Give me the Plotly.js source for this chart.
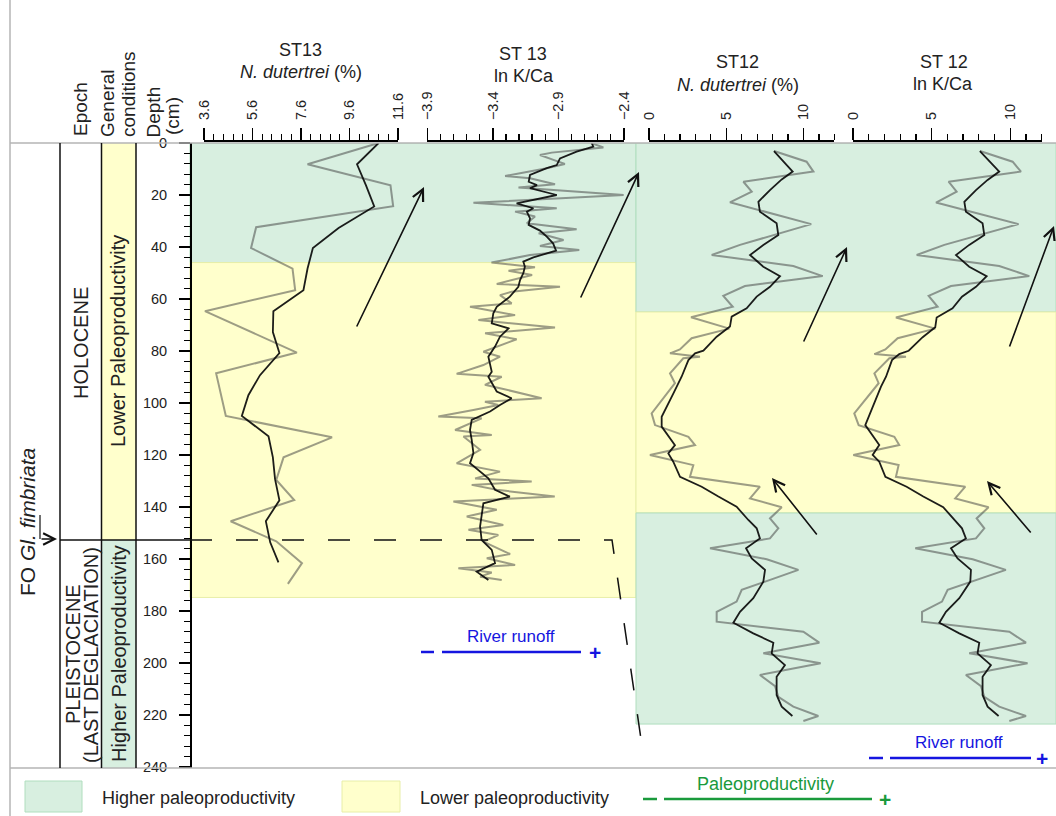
<!DOCTYPE html>
<html><head><meta charset="utf-8">
<script src="https://cdn.plot.ly/plotly-3.0.1.min.js"></script>
<style>html,body{margin:0;padding:0;background:#fff}#chart{width:1056px;height:816px}</style>
</head><body><div id="chart"></div>
<script>
// ---------------- DATA ----------------
// ST13 N. dutertrei (%)
const st13DutRawDepth = [0,8.2,16.3,24.3,32.4,40.4,48.3,56.6,64.7,80.6,88.6,105,113.2,120.9,129.6,137.3,145.5,153.2,161.6,169.6];
const st13DutRaw      = [10.8,7.87,11.29,11.4,5.75,5.54,7.25,7.36,3.64,7.43,4.10,4.50,8.88,6.88,6.58,7.32,4.70,6.58,7.64,7.06];
const st13DutSmDepth  = [0,8.2,16.3,24.4,32.7,40.4,48.3,56.6,64.7,72.7,80.8,89.3,97,105,112.8,120.9,129.3,137.4,145.5,153.6,161.3];
const st13DutSm       = [10.8,9.91,10.28,10.62,9.15,8.09,7.87,7.70,6.46,6.44,6.71,5.91,5.43,5.16,6.26,6.44,6.53,6.71,6.15,6.33,6.67];

// ST13 ln K/Ca
const st13KRawDepth = [0.1,1.7,3.7,4.6,6.5,8.1,9.7,12.7,13.6,15.9,17.1,20.0,23.0,25.1,26.4,28.3,30.9,33.2,34.7,37.3,39.6,41.2,43.1,46.0,47.8,49.1,50.8,54.2,55.3,57.2,58.5,61.7,63.0,66.2,68.1,71.0,73.2,75.5,80.3,82.2,85.4,88.8,89.9,93.0,94.3,98.2,99.5,100.8,102.7,105.2,105.9,110.4,112.3,112.9,118.0,123.2,126.4,129.0,130.2,131.5,133.4,136.0,137.9,141.1,143.7,146.9,148.8,150.8,153.3,158.1,159.7,162.3,163.6,165.2,166.8,168.1];
const st13KRaw      = [-2.645,-2.556,-2.95,-3.04,-2.937,-2.85,-2.988,-3.306,-3.116,-2.925,-3.204,-2.40,-3.548,-2.912,-3.23,-3.078,-3.14,-2.76,-3.05,-2.86,-3.04,-2.74,-3.116,-3.41,-3.078,-3.28,-3.10,-3.37,-2.887,-3.256,-3.345,-3.256,-3.574,-3.23,-3.51,-2.925,-3.459,-3.218,-3.472,-3.345,-3.472,-3.676,-3.332,-3.46,-3.345,-3.027,-3.46,-3.358,-3.548,-3.816,-3.485,-3.688,-3.408,-3.624,-3.497,-3.676,-3.345,-3.535,-3.103,-3.561,-3.37,-2.927,-3.701,-3.37,-3.599,-3.32,-3.586,-3.358,-3.472,-3.268,-3.446,-3.23,-3.663,-3.408,-3.497,-3.332];
const st13KSmDepth = [0,1.4,3.3,5.9,8.5,9.7,12.3,14.9,16.2,17.4,20.0,21.7,23.2,25.1,26.4,29.0,31.5,33.7,36.0,38.6,41.4,44.0,45.6,47.6,50.1,52.7,55.3,59.1,63.0,65.5,69.4,71.3,74.5,78.3,82.2,88.0,89.9,95.6,98.2,100.8,103.3,106.5,110.4,114.2,119.3,123.2,125.8,129.0,133.4,136.0,138.6,142.4,147.5,152.7,156.5,161.6,164.9,168.1];
const st13KSm      = [-2.645,-2.633,-2.76,-2.887,-2.912,-2.988,-3.116,-3.126,-3.063,-3.116,-2.912,-3.09,-3.218,-3.09,-3.14,-3.116,-3.126,-3.04,-2.988,-2.94,-2.917,-3.09,-3.167,-3.155,-3.167,-3.192,-3.205,-3.27,-3.37,-3.396,-3.408,-3.28,-3.345,-3.383,-3.434,-3.408,-3.434,-3.37,-3.256,-3.345,-3.421,-3.561,-3.574,-3.561,-3.548,-3.574,-3.51,-3.434,-3.383,-3.27,-3.472,-3.485,-3.497,-3.485,-3.408,-3.383,-3.523,-3.434];

// ST12 N. dutertrei (%)
const st12DutRawDepth = [3.1,7.2,11.0,14.9,18.7,22.8,31.2,39.2,43.1,47.3,51.2,55.0,58.8,63.0,67.0,71.4,75.1,79.4,80.9,82.2,82.8,88.6,92.4,104.0,108.5,113.0,116.2,120.0,123.9,128.4,132.2,136.7,140.1,144.4,148.2,152.1,155.9,160.1,164.2,171.9,176.4,180.3,184.1,188.0,192.2,196.3,200.1,204.6,208.9,213.0,216.8,220.4,222.3];
const st12DutRaw      = [8.09,10.2,10.64,6.11,6.65,5.24,10.5,5.89,4.06,9.34,11.24,6.21,4.81,5.42,2.72,5.20,2.76,2.00,1.36,3.30,2.22,1.36,1.68,0.17,0.39,2.55,2.98,0.06,2.87,2.65,7.18,6.54,8.59,7.83,8.37,7.83,3.95,7.62,9.67,6.00,5.67,4.38,4.38,9.99,11.02,7.40,11.11,7.18,8.16,8.37,9.34,10.96,9.99];
const st12DutSmDepth  = [3.1,11.0,14.0,18.1,22.6,26.4,30.9,35.4,39.2,43.1,47.6,51.2,55.3,59.1,63.6,66.8,70.6,74.5,79.9,80.9,83.5,89.9,96.3,105.3,109.1,116.2,119.4,122.6,128.4,132.2,136.0,139.9,145.0,148.2,152.1,155.9,159.8,164.2,168.7,175.1,180.3,184.5,188.6,192.2,196.3,200.8,205.3,212.3,216.8,220.4];
const st12DutSm       = [8.09,9.30,8.59,7.83,7.08,7.18,8.26,8.37,7.40,6.54,7.40,8.48,7.83,6.97,6.32,5.35,5.24,4.38,3.52,2.98,2.55,2.11,1.58,0.82,0.82,1.68,1.25,1.57,2.01,3.41,4.49,5.67,6.43,6.97,7.18,6.28,6.65,7.51,7.40,6.75,5.89,5.46,6.75,8.05,7.94,8.80,8.26,8.26,8.59,9.28];

// ST12 ln K/Ca
const st12KRawDepth = [3.1,7.2,11.0,14.9,18.7,22.9,31.2,39.2,43.1,47.3,51.2,55.0,58.8,63.0,67.1,71.4,75.1,79.4,81.2,82.2,82.8,88.6,92.4,104.0,108.5,113.0,116.2,120.0,123.9,128.4,132.2,136.7,140.1,144.4,148.2,152.1,155.9,160.1,164.2,171.9,176.4,180.3,184.1,188.0,192.2,196.3,200.1,204.6,208.9,213.0,216.8,220.4,222.3];
const st12KRaw      = [8.07,10.15,10.68,6.08,6.59,5.28,10.53,5.81,4.05,9.30,11.21,6.23,4.81,5.38,2.73,5.23,2.84,2.06,1.36,3.37,2.31,1.36,1.63,0.08,0.36,2.63,2.94,0.02,2.90,2.73,7.14,6.50,8.62,7.86,8.35,7.82,3.96,7.61,9.72,6.02,5.66,4.39,4.39,9.94,11.0,7.39,11.1,7.18,8.14,8.35,9.30,11.0,9.94];
const st12KSmDepth = [3.1,11.0,14.2,18.1,22.6,26.4,30.9,35.4,39.2,43.1,47.6,51.2,55.3,59.1,63.6,67.1,70.9,74.7,79.9,81.2,83.5,89.9,93.7,108.5,116.2,120.0,122.6,128.4,132.2,136.0,140.1,144.8,148.2,152.1,155.9,159.8,164.2,168.7,175.1,180.3,184.5,188.6,192.2,196.3,200.8,205.3,212.3,216.8,220.4];
const st12KSm      = [8.07,9.30,8.56,7.82,7.08,7.18,8.24,8.35,7.39,6.55,7.39,8.50,7.82,6.93,6.33,5.32,5.23,4.43,3.54,2.94,2.48,2.10,1.78,0.78,1.67,1.25,1.67,2.06,3.41,4.47,5.74,6.44,6.93,7.18,6.23,6.65,7.50,7.46,6.76,5.91,5.49,6.76,8.03,7.92,8.77,8.24,8.24,8.56,9.26];

// Paleoproductivity intervals (depth, cm)
const st13BandTop    = [0, 46];
const st13BandBottom = [46, 174.8];
const st13BandKind   = ['higher', 'lower'];
const st12BandTop    = [0, 65, 142.3];
const st12BandBottom = [65, 142.3, 223.5];
const st12BandKind   = ['higher', 'lower', 'higher'];
const epochBoundaryDepth = 152.7;   // FO Gl. fimbriata in ST13
const st12CorrelationDepth = 234.6; // correlated level in ST12

// ---------------- STYLE / LAYOUT ----------------
const W = 1056, H = 816;
const px = x => x / W, py = y => 1 - y / H;
const FONT = 'Liberation Sans, Arial, Helvetica, sans-serif';
const GREEN_FILL = 'rgb(216,239,224)', GREEN_EDGE = 'rgb(176,222,190)';
const YEL_FILL = 'rgb(255,255,204)', YEL_EDGE = 'rgb(232,238,168)';
const RAW_LINE = {color: 'rgba(60,60,60,0.5)', width: 2};
const SM_LINE = {color: 'rgba(10,10,10,0.92)', width: 1.8};
const BLUE = '#1515e0', GREEN = '#1a9a3c';

function tr(x, y, xa, line) {
  return {x: x, y: y, xaxis: xa, yaxis: 'y', type: 'scatter', mode: 'lines', line: line, hoverinfo: 'skip', showlegend: false};
}
const data = [
  tr(st13DutRaw, st13DutRawDepth, 'x', RAW_LINE),
  tr(st13DutSm, st13DutSmDepth, 'x', SM_LINE),
  tr(st13KRaw, st13KRawDepth, 'x2', RAW_LINE),
  tr(st13KSm, st13KSmDepth, 'x2', SM_LINE),
  tr(st12DutRaw, st12DutRawDepth, 'x3', RAW_LINE),
  tr(st12DutSm, st12DutSmDepth, 'x3', SM_LINE),
  tr(st12KRaw, st12KRawDepth, 'x4', RAW_LINE),
  tr(st12KSm, st12KSmDepth, 'x4', SM_LINE)
];

function xAxis(l, r, range, tick0, dtick, mdtick, fmt) {
  return {
    domain: [px(l), px(r)], range: range, side: 'top', anchor: 'free', position: py(140),
    showgrid: false, zeroline: false, showline: true, linecolor: '#000', linewidth: 1.5,
    ticks: 'outside', ticklen: 12, tickwidth: 1.5, tickcolor: '#000', tickangle: -90,
    ticklabelstandoff: 5,
    tick0: tick0, dtick: dtick, tickformat: fmt,
    minor: {ticks: 'outside', ticklen: 6, tickwidth: 1.2, tickcolor: '#000', tick0: tick0, dtick: mdtick, showgrid: false},
    tickfont: {family: FONT, size: 14.5, color: '#222'}, automargin: false, fixedrange: true
  };
}

const shapes = [];
function rectP(x0, y0, x1, y1, fill, edge) {
  shapes.push({type: 'rect', xref: 'paper', yref: 'paper', x0: px(x0), x1: px(x1), y0: py(y0), y1: py(y1),
    fillcolor: fill, line: {color: edge, width: 1}, layer: 'below'});
}
function lineP(x0, y0, x1, y1, color, width, dash) {
  shapes.push({type: 'line', xref: 'paper', yref: 'paper', x0: px(x0), x1: px(x1), y0: py(y0), y1: py(y1),
    line: {color: color, width: width, dash: dash || 'solid'}, layer: 'above'});
}
function band(xl, xr, top, bottom, kind) {
  shapes.push({type: 'rect', xref: 'paper', yref: 'y', x0: px(xl), x1: px(xr), y0: top, y1: bottom,
    fillcolor: kind === 'higher' ? GREEN_FILL : YEL_FILL,
    line: {color: kind === 'higher' ? GREEN_EDGE : YEL_EDGE, width: 1}, layer: 'below'});
}
st13BandTop.forEach((t, i) => band(190, 636, t, st13BandBottom[i], st13BandKind[i]));
st12BandTop.forEach((t, i) => band(636, 1056, t, st12BandBottom[i], st12BandKind[i]));

// general conditions column
shapes.push({type: 'rect', xref: 'paper', yref: 'y', x0: px(101.5), x1: px(136), y0: 0, y1: epochBoundaryDepth, fillcolor: YEL_FILL, line: {width: 0}, layer: 'below'});
shapes.push({type: 'rect', xref: 'paper', yref: 'y', x0: px(101.5), x1: px(136), y0: epochBoundaryDepth, y1: 240.4, fillcolor: GREEN_FILL, line: {width: 0}, layer: 'below'});

// frame lines
lineP(10, 0, 10, 816, '#b4b4b4', 1.5);
lineP(10, 143, 1056, 143, '#b4b4b4', 1.5);
lineP(10, 768, 1056, 768, '#b4b4b4', 1.5);
[60, 101.5, 136].forEach(x => lineP(x, 143, x, 768, '#111', 1.5));
shapes.push({type: 'line', xref: 'paper', yref: 'y', x0: px(60), x1: px(190), y0: epochBoundaryDepth, y1: epochBoundaryDepth, line: {color: '#111', width: 1.5}});
// dashed correlation line
shapes.push({type: 'path', xref: 'paper', yref: 'y',
  path: 'M ' + px(190) + ',' + epochBoundaryDepth + ' L ' + px(612) + ',' + epochBoundaryDepth + ' L ' + px(643) + ',' + st12CorrelationDepth,
  line: {color: '#111', width: 1.5, dash: '22px,24px'}});
// FO marker
lineP(40, 515, 40, 539, '#222', 1.3);

// river runoff / paleoproductivity scales
lineP(421, 652, 434, 652, BLUE, 2.5); lineP(442, 652, 581, 652, BLUE, 2.5);
lineP(869, 758, 883, 758, BLUE, 2.5); lineP(890, 758, 1031, 758, BLUE, 2.5);
lineP(643, 799, 657, 799, GREEN, 2.5); lineP(664, 799, 872, 799, GREEN, 2.5);

// legend swatches
rectP(25, 781, 82, 812, GREEN_FILL, GREEN_EDGE);
rectP(342, 781, 400, 812, YEL_FILL, YEL_EDGE);

const ann = [];
function txt(text, x, y, size, opts) {
  const o = Object.assign({text: text, x: px(x), y: py(y), xref: 'paper', yref: 'paper', showarrow: false,
    xanchor: 'center', yanchor: 'middle', font: {family: FONT, size: size, color: (opts && opts.color) || '#222'}}, opts || {});
  if (opts && opts.color) delete o.color;
  ann.push(o);
}
// panel titles
txt('ST13', 300, 50, 18);
txt('<i>N. dutertrei</i> (%)', 301, 72, 18);
txt('ST 13', 523, 54, 18);
txt('ln K/Ca', 524, 76, 18);
txt('ST12', 737, 62, 18);
txt('<i>N. dutertrei</i> (%)', 738, 85, 18);
txt('ST 12', 944, 62, 18);
txt('ln K/Ca', 943, 84, 18);
// column headers (rotated)
txt('Epoch', 80, 138, 19, {textangle: -90, yanchor: 'bottom'});
txt('General', 107, 139, 19, {textangle: -90, yanchor: 'bottom'});
txt('conditions', 128, 139, 19, {textangle: -90, yanchor: 'bottom'});
txt('Depth', 153, 140, 19, {textangle: -90, yanchor: 'bottom'});
txt('(cm)', 173, 137, 19, {textangle: -90, yanchor: 'bottom'});
// column contents
txt('HOLOCENE', 81, 343, 20, {textangle: -90});
txt('PLEISTOCENE', 73, 654, 20, {textangle: -90});
txt('(LAST DEGLACIATION)', 91, 655, 20, {textangle: -90});
txt('Lower Paleoproductivity', 118, 341, 20, {textangle: -90});
txt('Higher Paleoproductivity', 119, 654, 20, {textangle: -90});
txt('FO <i>Gl. fimbriata</i>', 27, 522, 21, {textangle: -90});
// scale labels
txt('River runoff', 511, 636, 17, {color: BLUE});
txt('<b>+</b>', 595, 652, 21, {color: BLUE});
txt('River runoff', 959, 742, 17, {color: BLUE});
txt('<b>+</b>', 1042, 758, 21, {color: BLUE});
txt('Paleoproductivity', 765, 784, 18, {color: GREEN});
txt('<b>+</b>', 885, 799, 21, {color: GREEN});
// legend
txt('Higher paleoproductivity', 100, 798, 18, {xanchor: 'left'});
txt('Lower paleoproductivity', 418, 798, 18, {xanchor: 'left'});

// arrows (head x,y ; tail x,y in page pixels)
const arrows = [[424,187,356,328],[639,172,580,299],[847,247,803,343],[1054,226,1009,348],[772,478,818,536],[987,481,1032,534],[57,539,40,539]];
arrows.forEach(a => ann.push({x: px(a[0]), y: py(a[1]), xref: 'paper', yref: 'paper', text: '', showarrow: true,
  ax: a[2] - a[0], ay: a[3] - a[1], arrowhead: 5, arrowsize: 1.4, arrowwidth: 1.6, arrowcolor: '#111', standoff: 0}));

const layout = {
  width: W, height: H, margin: {l: 0, r: 0, t: 0, b: 0, pad: 0},
  paper_bgcolor: '#fff', plot_bgcolor: 'rgba(0,0,0,0)', showlegend: false,
  font: {family: FONT, color: '#222'},
  xaxis: xAxis(204, 398, [3.6, 11.6], 3.6, 2, 0.4, '.1f'),
  xaxis2: xAxis(427.3, 623.8, [-3.9, -2.4], -3.9, 0.5, 0.1, '.1f'),
  xaxis3: xAxis(649, 834.4, [0, 12], 0, 5, 1, 'd'),
  xaxis4: xAxis(853, 1041.7, [0, 12], 0, 5, 1, 'd'),
  yaxis: {
    domain: [py(768), py(143)], range: [240.4, 0], anchor: 'free', position: px(190), side: 'left',
    showgrid: false, zeroline: false, showline: true, linecolor: '#000', linewidth: 1.5,
    ticks: 'outside', ticklen: 11, tickwidth: 1.5, tickcolor: '#000', tick0: 0, dtick: 20,
    ticklabelstandoff: 9,
    minor: {ticks: 'outside', ticklen: 6, tickwidth: 1.2, tickcolor: '#000', tick0: 0, dtick: 4, showgrid: false},
    tickfont: {family: FONT, size: 14.5, color: '#222'}, automargin: false, fixedrange: true
  },
  shapes: shapes,
  annotations: ann
};
Plotly.newPlot('chart', data, layout, {staticPlot: true, displayModeBar: false});
</script></body></html>
